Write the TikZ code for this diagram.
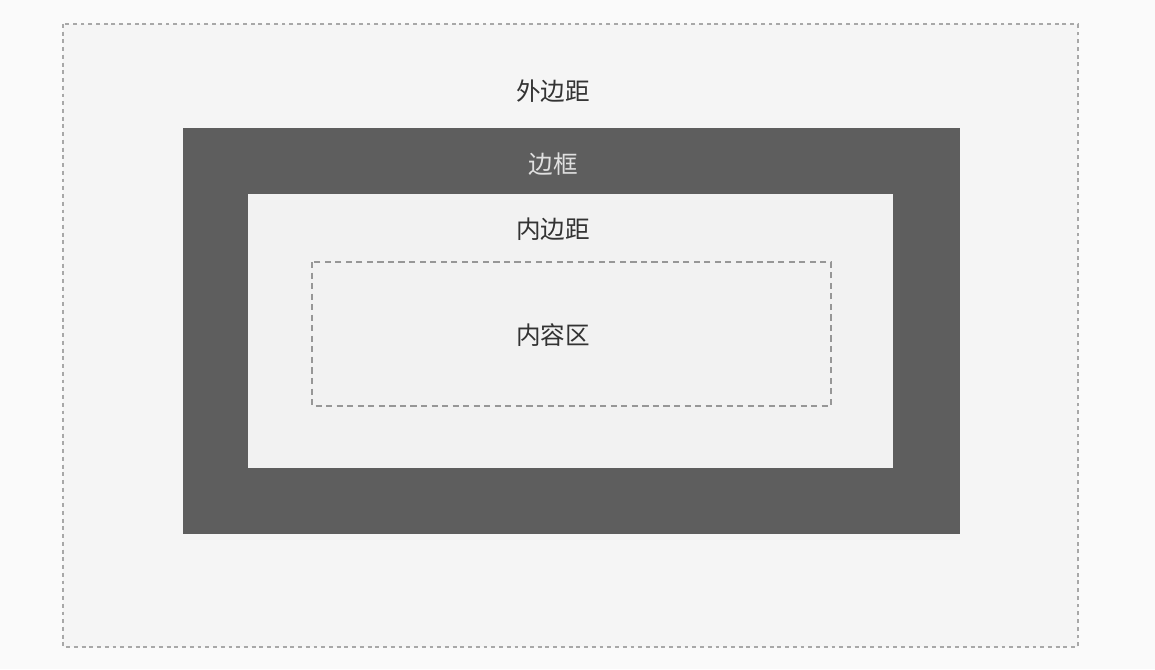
\documentclass[tikz,border=0pt]{standalone}
\usepackage{fontspec}
\newfontfamily\cjk{Noto Sans CJK SC}
\usetikzlibrary{positioning, calc}

\definecolor{bordergray}{HTML}{5E5E5E}
\definecolor{paperbg}{HTML}{FAFAFA}
\definecolor{marginbg}{HTML}{F5F5F5}
\definecolor{paddingbg}{HTML}{F2F2F2}
\definecolor{dashgray}{HTML}{A8A8A8}

\begin{document}
\begin{tikzpicture}[
    x=0.02cm, y=-0.02cm,
    font=\cjk\fontsize{14}{16}\selectfont,
    lbl/.style={text=black!80, inner sep=1pt},
    outerline/.style={draw=dashgray, line width=0.6pt, dash pattern=on 2.2pt off 2.2pt},
    innerline/.style={draw=dashgray!90!black, line width=0.8pt, dash pattern=on 3.5pt off 2.5pt},
]

    %==================== PAGE ====================
    \fill[paperbg] (0,0) rectangle (1155,669);
    \useasboundingbox (0,0) rectangle (1155,669);

    %==================== MARGIN ====================
    \coordinate (mtl) at (63,24);
    \coordinate (mbr) at (1078,647);
    \path[fill=marginbg, outerline] (mtl) rectangle (mbr);

    %==================== BORDER ====================
    \coordinate (btl) at (183,128);
    \coordinate (bbr) at (960,534);
    \fill[bordergray] (btl) rectangle (bbr);

    %==================== PADDING ====================
    \coordinate (ptl) at (248,194);
    \coordinate (pbr) at (893,468);
    \fill[paddingbg] (ptl) rectangle (pbr);

    %==================== CONTENT ====================
    \coordinate (ctl) at (312,262);
    \coordinate (cbr) at (831,406);
    \path[innerline] (ctl) rectangle (cbr);

    %==================== LABELS ====================
    \node[lbl] (margin) at (553,91) {外边距};
    \node[lbl, text=white!88!black] (border) at (553,164) {边框};
    \node[lbl] (padding) at (553,229) {内边距};
    \node[lbl] (content) at (553,335) {内容区};

\end{tikzpicture}
\end{document}
